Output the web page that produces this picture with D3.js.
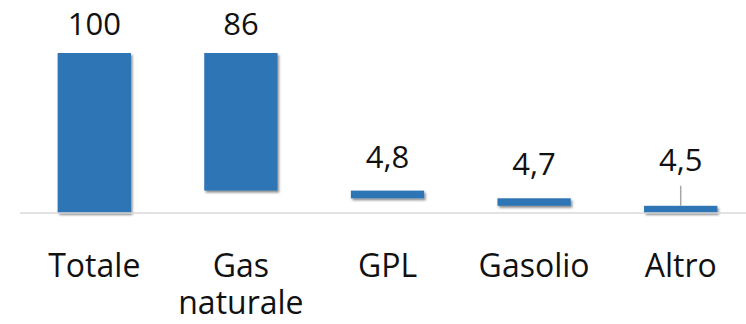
<!DOCTYPE html>
<html>
<head>
<meta charset="utf-8">
<script src="https://cdn.jsdelivr.net/npm/d3@7"></script>
<style>
  body { margin: 0; background: #fff; }
  svg { display: block; font-family: "Open Sans", "Noto Sans", sans-serif; }
</style>
</head>
<body>
<svg id="chart" width="746" height="324"></svg>
<script>
//  chart data
const categories = ["Totale", "Gas naturale", "GPL", "Gasolio", "Altro"];
const values = [100, 86, 4.8, 4.7, 4.5];
const value_labels = ["100", "86", "4,8", "4,7", "4,5"];
const is_total = [true, false, false, false, false];

//  build waterfall start / end
function build_steps() {
  var steps = [];
  var level = 0;
  for (let i = 0; i < values.length; ++i) {
    if (is_total[i]) {
      steps.push({cat: categories[i], label: value_labels[i], y0: 0, y1: values[i]});
      level = values[i];
    } else {
      steps.push({cat: categories[i], label: value_labels[i], y0: level - values[i], y1: level});
      level -= values[i];
    }
  }
  return steps;
}

function draw_waterfall() {
  const margin = ({top: 53, right: -8, bottom: 110, left: 21});
  const w = 746, h = 324;
  const svg = d3.select("#chart");
  const data = build_steps();

  const x = d3.scaleBand()
    .domain(categories)
    .range([margin.left, w - margin.right])
    .paddingInner(0.5)
    .paddingOuter(0.25);

  const y = d3.scaleLinear()
    .domain([0, 100])
    .range([h - margin.bottom - 1, margin.top]);

  //  shadow
  const defs = svg.append("defs");
  const f = defs.append("filter").attr("id", "shadow")
    .attr("x", "-10%").attr("y", "-10%").attr("width", "130%").attr("height", "160%");
  f.append("feDropShadow")
    .attr("dx", 1.5).attr("dy", 2).attr("stdDeviation", 1.2)
    .attr("flood-color", "#000").attr("flood-opacity", 0.45);

  //  bars
  svg.append("g")
    .selectAll("rect")
    .data(data)
    .join("rect")
      .attr("x", d => x(d.cat))
      .attr("width", x.bandwidth())
      .attr("y", d => y(d.y1))
      .attr("height", d => y(d.y0) - y(d.y1))
      .attr("fill", "#2E75B6")
      .attr("filter", "url(#shadow)");

  //  axis line
  const xAxis = g => g
    .attr("transform", `translate(0,${y(0)})`)
    .call(d3.axisBottom(x).tickSize(0).tickFormat(""))
    .call(g => g.select(".domain").attr("stroke", "#d9d9d9").attr("stroke-width", 1.5)
      .attr("d", `M${margin.left - 1},0H${w}`));

  svg.append("g").call(xAxis);

  //  value labels (last one pulled up with a leader line)
  const lifted = d => d.cat == "Altro";
  svg.append("g")
    .selectAll("line")
    .data(data.filter(lifted))
    .join("line")
      .attr("x1", d => x(d.cat) + x.bandwidth() / 2)
      .attr("x2", d => x(d.cat) + x.bandwidth() / 2)
      .attr("y1", d => y(d.y1) - 20)
      .attr("y2", d => y(d.y1))
      .attr("stroke", "#a6a6a6")
      .attr("stroke-width", 1.5);

  svg.append("g")
    .selectAll("text")
    .data(data)
    .join("text")
      .attr("x", d => x(d.cat) + x.bandwidth() / 2)
      .attr("y", d => y(d.y1) - (lifted(d) ? 35 : (d.y1 >= 100 ? 18 : 23)))
      .attr("text-anchor", "middle")
      .style("font-size", "31px")
      .style("fill", "#111")
      .text(d => d.label);

  //  category labels
  const cat = svg.append("g")
    .selectAll("text")
    .data(data)
    .join("text")
      .attr("x", d => x(d.cat) + x.bandwidth() / 2)
      .attr("y", 277)
      .attr("text-anchor", "middle")
      .style("font-size", "32px")
      .style("fill", "#111");

  cat.each(function(d) {
    const words = d.cat.split(" ");
    const t = d3.select(this);
    words.forEach((wd, i) => {
      t.append("tspan")
        .attr("x", x(d.cat) + x.bandwidth() / 2)
        .attr("dy", i == 0 ? 0 : 37)
        .text(wd);
    });
  });
}

draw_waterfall();
</script>
</body>
</html>
